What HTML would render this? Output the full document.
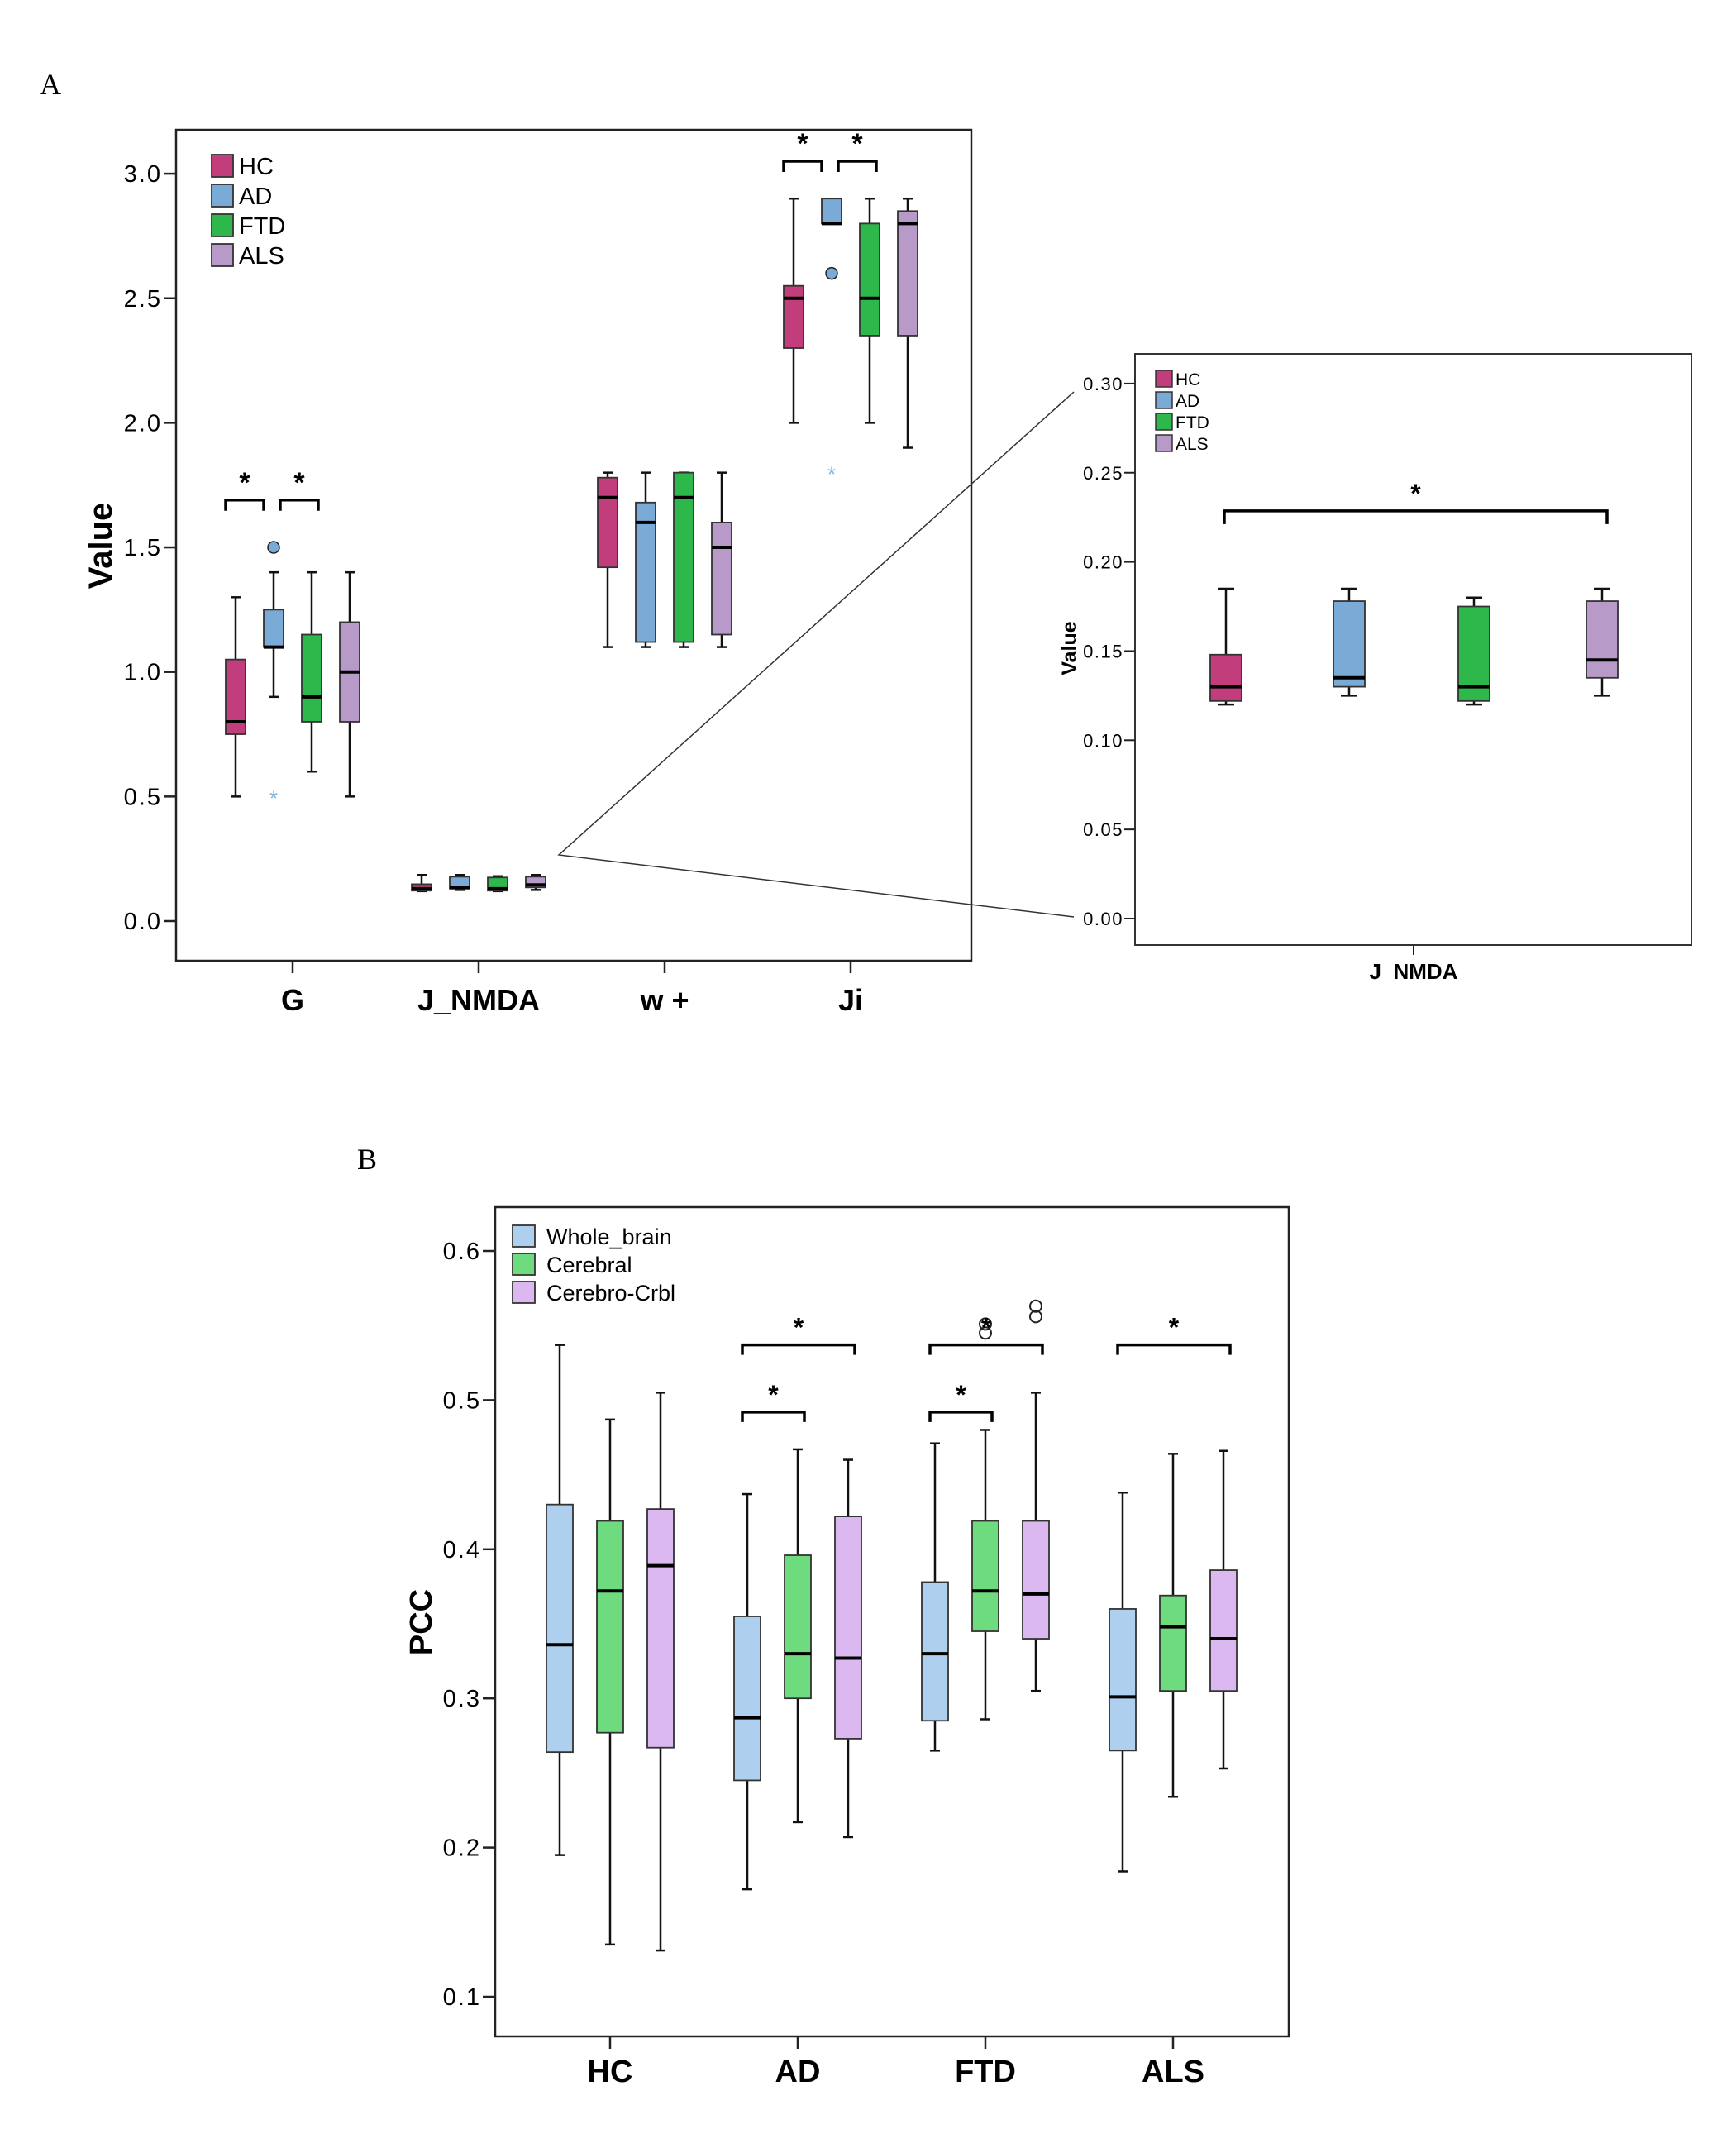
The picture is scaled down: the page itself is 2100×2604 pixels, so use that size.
<!DOCTYPE html>
<html><head><meta charset="utf-8"><style>
html,body{margin:0;padding:0;background:#fff;}
svg{display:block;font-family:"Liberation Sans",Arial,sans-serif;}
</style></head><body>
<svg id="fig" xmlns="http://www.w3.org/2000/svg" width="2100" height="2604" viewBox="0 0 2100 2604">
<text x="48" y="114" font-family="Liberation Serif,serif" font-size="36">A</text>
<text x="432" y="1414" font-family="Liberation Serif,serif" font-size="36">B</text>
</svg>
<script>
// ===== Panel A data =====
const aCategories = ["G","J_NMDA","w +","Ji"];
const aGroups = ["HC","AD","FTD","ALS"];
const aYTicks = [0.0,0.5,1.0,1.5,2.0,2.5,3.0];
const aYTickLabels = ["0.0","0.5","1.0","1.5","2.0","2.5","3.0"];
const aWhiskLow = [[0.5,0.9,0.6,0.5],[0.12,0.125,0.12,0.125],[1.1,1.1,1.1,1.1],[2.0,2.8,2.0,1.9]];
const aQ1 = [[0.75,1.1,0.8,0.8],[0.122,0.13,0.122,0.135],[1.42,1.12,1.12,1.15],[2.3,2.8,2.35,2.35]];
const aMedian = [[0.8,1.1,0.9,1.0],[0.13,0.135,0.13,0.145],[1.7,1.6,1.7,1.5],[2.5,2.8,2.5,2.8]];
const aQ3 = [[1.05,1.25,1.15,1.2],[0.148,0.178,0.175,0.178],[1.78,1.68,1.8,1.6],[2.55,2.9,2.8,2.85]];
const aWhiskHigh = [[1.3,1.4,1.4,1.4],[0.185,0.185,0.18,0.185],[1.8,1.8,1.8,1.8],[2.9,2.9,2.9,2.9]];
const aCircleOutliers = [[0,1,1.5],[3,1,2.6]];
const aStarOutliers = [[0,1,0.5],[3,1,1.8]];
const aSig = [[0,0,1,1.69],[0,1,2,1.69],[3,0,1,3.05],[3,1,2,3.05]];

// ===== Inset data =====
const iYTicks = [0.00,0.05,0.10,0.15,0.20,0.25,0.30];
const iYTickLabels = ["0.00","0.05","0.10","0.15","0.20","0.25","0.30"];
const iWhiskLow = [0.12,0.125,0.12,0.125];
const iQ1 = [0.122,0.13,0.122,0.135];
const iMedian = [0.13,0.135,0.13,0.145];
const iQ3 = [0.148,0.178,0.175,0.178];
const iWhiskHigh = [0.185,0.185,0.18,0.185];
const iSig = [0,3,0.2286];

// ===== Panel B data =====
const bCategories = ["HC","AD","FTD","ALS"];
const bSeries = ["Whole_brain","Cerebral","Cerebro-Crbl"];
const bYTicks = [0.1,0.2,0.3,0.4,0.5,0.6];
const bYTickLabels = ["0.1","0.2","0.3","0.4","0.5","0.6"];
const bWhiskLow = [[0.195,0.135,0.131],[0.172,0.217,0.207],[0.265,0.286,0.305],[0.184,0.234,0.253]];
const bQ1 = [[0.264,0.277,0.267],[0.245,0.300,0.273],[0.285,0.345,0.340],[0.265,0.305,0.305]];
const bMedian = [[0.336,0.372,0.389],[0.287,0.330,0.327],[0.330,0.372,0.370],[0.301,0.348,0.340]];
const bQ3 = [[0.430,0.419,0.427],[0.355,0.396,0.422],[0.378,0.419,0.419],[0.360,0.369,0.386]];
const bWhiskHigh = [[0.537,0.487,0.505],[0.437,0.467,0.460],[0.471,0.480,0.505],[0.438,0.464,0.466]];
const bOutliers = [[2,1,0.545],[2,1,0.551],[2,2,0.556],[2,2,0.563]];
const bSig = [[1,0,2,0.537],[1,0,1,0.492],[2,0,2,0.537],[2,0,1,0.492],[3,0,2,0.537]];

const NS="http://www.w3.org/2000/svg";
const svg=document.getElementById('fig');
function mk(tag,attrs,parent){const e=document.createElementNS(NS,tag);for(const k in attrs)e.setAttribute(k,attrs[k]);(parent||svg).appendChild(e);return e;}

function drawBox(parent,x,w,lo,q1,md,q3,hi,yf,col,cap){
  const g=mk('g',{},parent);
  
  
  mk('line',{x1:x,x2:x,y1:yf(hi),y2:yf(q3),stroke:'#111','stroke-width':2.5},g);
  mk('line',{x1:x,x2:x,y1:yf(q1),y2:yf(lo),stroke:'#111','stroke-width':2.5},g);
  mk('line',{x1:x-cap,x2:x+cap,y1:yf(hi),y2:yf(hi),stroke:'#111','stroke-width':2.5},g);
  mk('line',{x1:x-cap,x2:x+cap,y1:yf(lo),y2:yf(lo),stroke:'#111','stroke-width':2.5},g);
  mk('rect',{x:x-w/2,y:yf(q3),width:w,height:Math.max(1,yf(q1)-yf(q3)),fill:col,stroke:'#333','stroke-width':1.8},g);
  mk('line',{x1:x-w/2,x2:x+w/2,y1:yf(md),y2:yf(md),stroke:'#000','stroke-width':4},g);
  return g;
}
function bracket(parent,x1,x2,y,leg,starFs){
  const g=mk('g',{},parent);
  
  
  mk('path',{d:`M${x1},${y+leg} L${x1},${y} L${x2},${y} L${x2},${y+leg}`,fill:'none',stroke:'#000','stroke-width':3.5},g);
  const t=mk('text',{x:(x1+x2)/2,y:y-10,'text-anchor':'middle','font-size':starFs,'font-weight':'bold'},g);
  t.textContent='*';
}

// ----- Panel A -----
const aColors=["#c23d7c","#7aaad6","#2eb84b","#b89ac9"];
const aL=213,aT=157,aR=1175,aB=1162;
const aY=v=>1114-v*301.3;
const aX=c=>354+c*225;
const aOff=[-69,-23,23,69];
const gA=mk('g',{});


let fr=mk('rect',{x:aL,y:aT,width:aR-aL,height:aB-aT,fill:'none',stroke:'#222','stroke-width':2.5},gA);


aYTicks.forEach((t,i)=>{
  const y=aY(t);
  const tk=mk('line',{x1:aL-15,x2:aL,y1:y,y2:y,stroke:'#222','stroke-width':2.5},gA);
  
  
  const tx=mk('text',{x:aL-17,y:y+10,'text-anchor':'end','font-size':29,'letter-spacing':2},gA);
  tx.textContent=aYTickLabels[i];
  
  
});
aCategories.forEach((c,i)=>{
  const x=aX(i);
  const tk=mk('line',{x1:x,x2:x,y1:aB,y2:aB+15,stroke:'#222','stroke-width':2.5},gA);
  
  
  const tx=mk('text',{x:x,y:1222,'text-anchor':'middle','font-size':36,'font-weight':'bold'},gA);
  tx.textContent=c;
  
  
});
let yl=mk('text',{x:0,y:0,transform:'translate(135,660) rotate(-90)','text-anchor':'middle','font-size':40,'font-weight':'bold'},gA);
yl.textContent='Value';


for(let c=0;c<4;c++)for(let g=0;g<4;g++){
  drawBox(gA,aX(c)+aOff[g],24,aWhiskLow[c][g],aQ1[c][g],aMedian[c][g],aQ3[c][g],aWhiskHigh[c][g],aY,aColors[g],6);
}
aCircleOutliers.forEach(o=>{
  const e=mk('circle',{cx:aX(o[0])+aOff[o[1]],cy:aY(o[2]),r:7,fill:aColors[o[1]],stroke:'#222','stroke-width':1.5},gA);
  
  
});
aStarOutliers.forEach(o=>{
  const e=mk('text',{x:aX(o[0])+aOff[o[1]],y:aY(o[2])+11,'text-anchor':'middle','font-size':26,fill:'#8ab5e0'},gA);
  e.textContent='*';
  
  
});
aSig.forEach(s=>{
  const c1=aX(s[0])+aOff[s[1]], c2=aX(s[0])+aOff[s[2]];
  const sh = s[1]===0 ? -12 : 8;
  bracket(gA,c1+sh,c2+sh,aY(s[3]),13,34);
});
aGroups.forEach((n,i)=>{
  const y=200+i*36;
  const g=mk('g',{},gA);
  
  
  mk('rect',{x:256,y:y-13,width:26,height:27,fill:aColors[i],stroke:'#333','stroke-width':1.8},g);
  const t=mk('text',{x:289,y:y+11,'font-size':29},g);t.textContent=n;
});

let zl=mk('path',{d:'M1299,474 L676,1034 L1299,1109',fill:'none',stroke:'#333','stroke-width':1.5});



// ----- Inset -----
const iL=1373,iT=428,iR=2046,iB=1143;
const iY=v=>1111-v*2157;
const iC=[1483,1632,1783,1938];
const gI=mk('g',{});


fr=mk('rect',{x:iL,y:iT,width:iR-iL,height:iB-iT,fill:'none',stroke:'#333','stroke-width':2},gI);


iYTicks.forEach((t,i)=>{
  const y=iY(t);
  const tk=mk('line',{x1:iL-13,x2:iL,y1:y,y2:y,stroke:'#222','stroke-width':2},gI);
  
  
  const tx=mk('text',{x:iL-14,y:y+8,'text-anchor':'end','font-size':22,'letter-spacing':1.5},gI);
  tx.textContent=iYTickLabels[i];
  
  
});
let itk=mk('line',{x1:1710,x2:1710,y1:iB,y2:iB+12,stroke:'#222','stroke-width':2},gI);


let ixl=mk('text',{x:1710,y:1184,'text-anchor':'middle','font-size':26,'font-weight':'bold'},gI);
ixl.textContent='J_NMDA';


let iyl=mk('text',{x:0,y:0,transform:'translate(1302,784) rotate(-90)','text-anchor':'middle','font-size':25,'font-weight':'bold'},gI);
iyl.textContent='Value';


for(let g=0;g<4;g++){
  drawBox(gI,iC[g],38,iWhiskLow[g],iQ1[g],iMedian[g],iQ3[g],iWhiskHigh[g],iY,aColors[g],10);
}
bracket(gI,iC[iSig[0]]-2,iC[iSig[1]]+6,iY(iSig[2]),16,32);
aGroups.forEach((n,i)=>{
  const y=458+i*26;
  const g=mk('g',{},gI);
  
  
  mk('rect',{x:1398,y:y-10,width:20,height:20,fill:aColors[i],stroke:'#333','stroke-width':1.5},g);
  const t=mk('text',{x:1422,y:y+8,'font-size':21},g);t.textContent=n;
});

// ----- Panel B -----
const bColors=["#aed0ee","#6fdb7f","#dcb8f0"];
const bL=599,bT=1460,bR=1559,bB=2463;
const bY=v=>2415-(v-0.1)*1804;
const bX=c=>738+c*227;
const bOff=[-61,0,61];
const gB=mk('g',{});


fr=mk('rect',{x:bL,y:bT,width:bR-bL,height:bB-bT,fill:'none',stroke:'#222','stroke-width':2.5},gB);


bYTicks.forEach((t,i)=>{
  const y=bY(t);
  const tk=mk('line',{x1:bL-15,x2:bL,y1:y,y2:y,stroke:'#222','stroke-width':2.5},gB);
  
  
  const tx=mk('text',{x:bL-17,y:y+10,'text-anchor':'end','font-size':29,'letter-spacing':2},gB);
  tx.textContent=bYTickLabels[i];
  
  
});
bCategories.forEach((c,i)=>{
  const x=bX(i);
  const tk=mk('line',{x1:x,x2:x,y1:bB,y2:bB+15,stroke:'#222','stroke-width':2.5},gB);
  
  
  const tx=mk('text',{x:x,y:2518,'text-anchor':'middle','font-size':38,'font-weight':'bold'},gB);
  tx.textContent=c;
  
  
});
let byl=mk('text',{x:0,y:0,transform:'translate(522,1962) rotate(-90)','text-anchor':'middle','font-size':38,'font-weight':'bold'},gB);
byl.textContent='PCC';


for(let c=0;c<4;c++)for(let s=0;s<3;s++){
  drawBox(gB,bX(c)+bOff[s],32,bWhiskLow[c][s],bQ1[c][s],bMedian[c][s],bQ3[c][s],bWhiskHigh[c][s],bY,bColors[s],6);
}
bOutliers.forEach(o=>{
  const e=mk('circle',{cx:bX(o[0])+bOff[o[1]],cy:bY(o[2]),r:7,fill:'none',stroke:'#222','stroke-width':2},gB);
  
  
});
bSig.forEach(s=>{
  bracket(gB,bX(s[0])+bOff[s[1]]-6,bX(s[0])+bOff[s[2]]+8,bY(s[3]),12,32);
});
bSeries.forEach((n,i)=>{
  const y=1495+i*34;
  const g=mk('g',{},gB);
  
  
  mk('rect',{x:620,y:y-13,width:27,height:26,fill:bColors[i],stroke:'#333','stroke-width':1.8},g);
  const t=mk('text',{x:661,y:y+10,'font-size':27},g);t.textContent=n;
});
</script>
</body></html>
